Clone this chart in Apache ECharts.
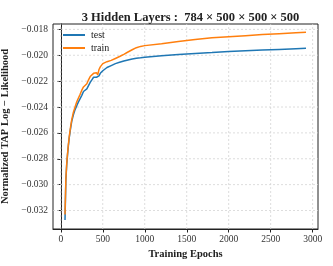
<!DOCTYPE html>
<html><head><meta charset="utf-8">
<script src="https://cdn.jsdelivr.net/npm/echarts@6/dist/echarts.min.js"></script>
<style>html,body{margin:0;padding:0;background:#fff}#c{width:333px;height:266px}</style>
</head><body><div id="c"></div>
<script>
const epochs = [50, 55, 60, 70, 80, 90, 100, 115, 130, 150, 170, 190, 210, 230, 250, 270, 290, 310, 330, 350, 370, 390, 410, 425, 440, 455, 470, 500, 550, 600, 650, 700, 750, 800, 850, 900, 950, 1000, 1200, 1400, 1600, 1800, 2000, 2200, 2400, 2600, 2800, 2920];
const testVals = [-0.03273, -0.0312, -0.0297, -0.0285, -0.0277, -0.0270, -0.0264, -0.0257, -0.0251, -0.0246, -0.0242, -0.0239, -0.0236, -0.02345, -0.0231, -0.0228, -0.02285, -0.0226, -0.02235, -0.0221, -0.0219, -0.0217, -0.02165, -0.0217, -0.02185, -0.0216, -0.0214, -0.0212, -0.02095, -0.0208, -0.02065, -0.02055, -0.02045, -0.02037, -0.0203, -0.02024, -0.0202, -0.02015, -0.02004, -0.01995, -0.01987, -0.0198, -0.01972, -0.01966, -0.0196, -0.01955, -0.0195, -0.01947];
const trainVals = [-0.0323, -0.0310, -0.0296, -0.0284, -0.0276, -0.0269, -0.0263, -0.0256, -0.0250, -0.0244, -0.0240, -0.0236, -0.0233, -0.02302, -0.0227, -0.02245, -0.02243, -0.0222, -0.0219, -0.02165, -0.0215, -0.0214, -0.0213, -0.02135, -0.02152, -0.0211, -0.0209, -0.02065, -0.0205, -0.0204, -0.02025, -0.0201, -0.01993, -0.01975, -0.01958, -0.01942, -0.01932, -0.01926, -0.01912, -0.01895, -0.01879, -0.01866, -0.01857, -0.01849, -0.01841, -0.01834, -0.01827, -0.01823];
const xTicks = [0, 500, 1000, 1500, 2000, 2500, 3000];
const yTicks = [-0.032, -0.030, -0.028, -0.026, -0.024, -0.022, -0.020, -0.018];

const serif = '"Liberation Serif", "DejaVu Serif", serif';
const X_MIN = -93, X_MAX = 3063, Y_MIN = -0.03342, Y_MAX = -0.01759;
const chart = echarts.init(document.getElementById('c'));
const pair = a => epochs.map((e, i) => [e, a[i]]);
const gridStyle = { color: '#d4d4d4', type: [2, 2], width: 0.8 };
const gridSeries = xTicks.map(v => [[v, Y_MIN], [v, Y_MAX]])
  .concat(yTicks.map(v => [[X_MIN, v], [X_MAX, v]]))
  .map(d => ({ type: 'line', data: d, symbol: 'none', silent: true, z: 1, lineStyle: gridStyle, tooltip: { show: false } }));
chart.setOption({
  animation: false,
  title: {
    text: '3 Hidden Layers :  784 \u00d7 500 \u00d7 500 \u00d7 500',
    left: 185.5, top: 6, textAlign: 'center',
    textStyle: { fontFamily: serif, fontWeight: 'bold', fontSize: 12.5, color: '#222' }
  },
  grid: { left: 53, right: 15, top: 24, bottom: 37, show: true, borderColor: '#222', borderWidth: 1,
    backgroundColor: 'transparent', containLabel: false, outerBoundsMode: 'none' },
  legend: {
    orient: 'vertical', left: 57, top: 25, itemWidth: 22, itemHeight: 8, itemGap: 3,
    itemStyle: { opacity: 0 },
    textStyle: { fontFamily: serif, fontSize: 10, color: '#222', padding: [0, 0, 0, 1] },
    data: ['test', 'train']
  },
  xAxis: {
    type: 'value', min: X_MIN, max: X_MAX,
    name: 'Training Epochs', nameLocation: 'middle', nameGap: 20,
    nameTextStyle: { fontFamily: serif, fontWeight: 'bold', fontSize: 10.5, color: '#222' },
    axisLine: { show: true, lineStyle: { color: '#222', width: 1 } },
    axisTick: { show: true, length: 3.5, lineStyle: { color: '#222' }, customValues: xTicks },
    axisLabel: { fontFamily: serif, fontSize: 9.5, color: '#333', margin: 5, customValues: xTicks,
      formatter: v => String(v) },
    splitLine: { show: false }
  },
  yAxis: {
    type: 'value', min: Y_MIN, max: Y_MAX,
    name: 'Normalized TAP Log \u2212 Likelihood', nameLocation: 'middle', nameGap: 34,
    nameTextStyle: { fontFamily: serif, fontWeight: 'bold', fontSize: 10.5, color: '#222' },
    axisLine: { show: true, lineStyle: { color: '#222', width: 1 } },
    axisTick: { show: true, length: 3.5, lineStyle: { color: '#222' }, customValues: yTicks },
    axisLabel: { fontFamily: serif, fontSize: 9.5, color: '#333', margin: 5, customValues: yTicks,
      formatter: v => (v < 0 ? '\u2212' : '') + Math.abs(v).toFixed(3) },
    splitLine: { show: false }
  },
  series: gridSeries.concat([
    { name: 'test', type: 'line', data: pair(testVals), symbol: 'none', z: 3,
      lineStyle: { color: '#1f77b4', width: 1.5 }, itemStyle: { color: '#1f77b4' } },
    { name: 'train', type: 'line', data: pair(trainVals), symbol: 'none', z: 4,
      lineStyle: { color: '#ff7f0e', width: 1.5 }, itemStyle: { color: '#ff7f0e' } }
  ])
});
</script></body></html>
